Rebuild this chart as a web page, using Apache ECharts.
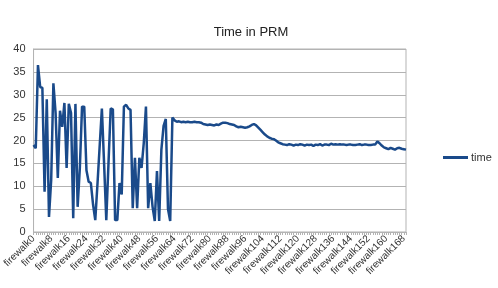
<!DOCTYPE html>
<html>
<head>
<meta charset="utf-8">
<script src="https://cdn.jsdelivr.net/npm/echarts@6/dist/echarts.min.js"></script>
<style>
  html, body { margin: 0; padding: 0; background: #fff; }
  #chart { width: 498px; height: 288px; }
</style>
</head>
<body>
<div id="chart"></div>
<script>
// PRM timings per firewalk run
const times = [
  19, 18.3, 36.5, 31.7, 31.5, 8.8, 29, 3.3, 11.4, 32.5,
  26, 11.8, 26.5, 23, 28.2, 14, 28, 26, 3, 28,
  5.5, 14, 27.4, 27.4, 13.5, 11, 10.7, 6, 2.6, 10.5,
  18.8, 27, 15, 2.6, 15, 27, 26.8, 2.6, 2.6, 10.7,
  8.2, 27.4, 27.8, 27, 26.7, 5.2, 16.2, 5.2, 16.2, 14,
  19.4, 27.4, 5.2, 10.7, 5.5, 2.4, 13.3, 2.4, 18, 23.2,
  24.7, 5, 2.4, 25, 24.4, 24.1, 24.2, 24.0, 24.1, 24.0,
  24.1, 24.0, 24.0, 24.1, 24.0, 24.0, 23.9, 23.6, 23.5, 23.4,
  23.5, 23.4, 23.3, 23.5, 23.4, 23.7, 23.9, 23.9, 23.8, 23.6,
  23.5, 23.4, 23.1, 22.9, 23.0, 22.9, 22.8, 22.9, 23.1, 23.4,
  23.6, 23.3, 22.8, 22.3, 21.8, 21.3, 20.9, 20.6, 20.4, 20.3,
  20.0, 19.6, 19.4, 19.2, 19.1, 19.0, 19.2, 19.1, 18.9, 19.1,
  19.0, 19.2, 19.1, 18.9, 19.1, 19.0, 19.1, 18.8, 19.1, 19.0,
  19.2, 18.9, 19.1, 19.1, 19.0, 19.3, 19.1, 19.2, 19.1, 19.2,
  19.1, 19.1, 19.0, 19.1, 19.1, 19.0, 19.0, 19.1, 19.2, 19.0,
  19.1, 19.1, 19.0, 19.0, 19.1, 19.1, 19.8, 19.4, 18.9, 18.5,
  18.3, 18.1, 18.4, 18.2, 18.0, 18.3, 18.4, 18.2, 18.1, 18.0
];
const runs = times.map((_, i) => 'firewalk' + i);

const chart = echarts.init(document.getElementById('chart'), null, { renderer: 'canvas' });

const grey = '#b3b3b3';
const ink = '#333333';

chart.setOption({
  animation: false,
  textStyle: { fontFamily: 'Liberation Sans, Arial, sans-serif' },
  title: {
    text: 'Time in PRM',
    left: 246,
    top: 21,
    textAlign: 'center',
    textStyle: { fontSize: 13, fontWeight: 'normal', color: '#222' }
  },
  legend: {
    data: ['time'],
    left: 438,
    top: 147,
    icon: 'rect',
    itemWidth: 25,
    itemHeight: 3,
    itemGap: 4,
    textStyle: { fontSize: 11, color: ink, padding: [0, 0, 0, -2] }
  },
  grid: { left: 27, right: 92, top: 49, bottom: 56, show: true, borderColor: grey, borderWidth: 1 },
  xAxis: {
    type: 'category',
    data: runs,
    boundaryGap: false,
    axisLine: { lineStyle: { color: grey } },
    axisTick: { show: true, interval: 0, length: 3, lineStyle: { color: grey } },
    axisLabel: { interval: 7, rotate: 45, fontSize: 10, color: ink, margin: 5 },
    splitLine: { show: false }
  },
  yAxis: {
    type: 'value',
    min: 0,
    max: 40,
    interval: 5,
    axisLine: { show: true, lineStyle: { color: grey } },
    axisTick: { show: false },
    axisLabel: { fontSize: 11, color: ink, margin: 8 },
    splitLine: { lineStyle: { color: grey } }
  },
  series: [{
    name: 'time',
    type: 'line',
    data: times,
    symbol: 'none',
    color: '#1a4a8a',
    lineStyle: { width: 2.5, color: '#1a4a8a' }
  }]
});
</script>
</body>
</html>
